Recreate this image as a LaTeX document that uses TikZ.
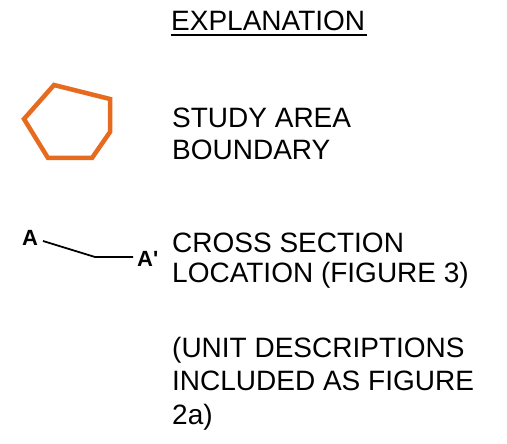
\documentclass[tikz,border=0pt]{standalone}
\usepackage{fontspec}
\setmainfont{Liberation Sans}
\newfontfamily\lblfont{Liberation Sans}
\definecolor{bndorange}{HTML}{E66B1E}
\begin{document}
\begin{tikzpicture}[x=1pt,y=-1pt,
  legtext/.style={anchor=base west,inner sep=0pt,font=\fontsize{28}{28}\selectfont},
  lbl/.style={anchor=base west,inner sep=0pt,font=\lblfont\fontsize{22}{22}\selectfont\bfseries}]
\useasboundingbox (0,0) rectangle (507,444);
% title
\node[legtext] (title) at (171,31) {EXPLANATION};
\draw[line width=1.6pt] (171,35) coordinate (u1) -- (367,35) coordinate (u2);
% study area boundary symbol
\draw[bndorange,line width=4.5pt,line join=miter]
  (54,85) coordinate (p1) -- (110,99) coordinate (p2) -- (110,132) coordinate (p3)
  -- (92,158) coordinate (p4) -- (48,158) coordinate (p5) -- (24,119) coordinate (p6) -- cycle;
\node[legtext] (sa1) at (172,128) {STUDY AREA};
\node[legtext] (sa2) at (172,160) {BOUNDARY};
% cross section symbol
\node[lbl] (A) at (22,245) {A};
\node[lbl] (Ap) at (137,266) {A'};
\coordinate (c1) at (43,241);
\coordinate (c2) at (95,257);
\coordinate (c3) at (133,257);
\draw[line width=1.8pt] (c1) -- (c2) -- (c3);
\node[legtext] (cs1) at (172,252) {CROSS SECTION};
\node[legtext] (cs2) at (172,282) {LOCATION (FIGURE 3)};
% note
\node[legtext] (n1) at (172,357) {(UNIT DESCRIPTIONS};
\node[legtext] (n2) at (172,390) {INCLUDED AS FIGURE};
\node[legtext] (n3) at (172,424) {2a)};
\end{tikzpicture}
\end{document}
